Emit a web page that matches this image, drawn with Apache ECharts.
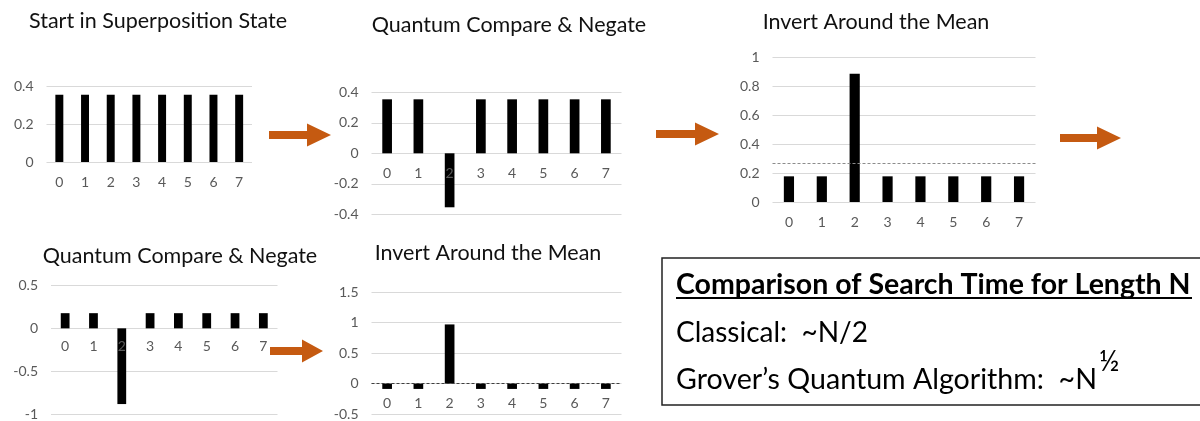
<!DOCTYPE html>
<html><head><meta charset="utf-8">
<script src="https://cdn.jsdelivr.net/npm/echarts@6/dist/echarts.min.js"></script>
<style>html,body{margin:0;padding:0;background:#fff}#c{width:1200px;height:421px}</style>
</head><body><div id="c"></div>
<script>
// ---- data ----
const categories = ['0','1','2','3','4','5','6','7'];
const superposition = [0.354,0.354,0.354,0.354,0.354,0.354,0.354,0.354];
const negate1 = [0.354,0.354,-0.354,0.354,0.354,0.354,0.354,0.354];
const invert1 = [0.177,0.177,0.884,0.177,0.177,0.177,0.177,0.177];
const negate2 = [0.177,0.177,-0.884,0.177,0.177,0.177,0.177,0.177];
const invert2 = [-0.088,-0.088,0.972,-0.088,-0.088,-0.088,-0.088,-0.088];
const mean1 = 0.265;
const mean2 = 0;
const panelTitles = ['Start in Superposition State','Quantum Compare & Negate','Invert Around the Mean','Quantum Compare & Negate','Invert Around the Mean'];
const yMin = [0,-0.4,0,-1,-0.5];
const yMax = [0.4,0.4,1,0.5,1.5];
const yStep = [0.2,0.2,0.2,0.5,0.5];
const boxTitle = 'Comparison of Search Time for Length N';
const boxLine1 = 'Classical:  ~N/2';
const boxLine2 = 'Grover\u2019s Quantum Algorithm:  ~N';
const boxSup = '\u00BD';

// ---- layout ----
const FONT = 'Lato';
const panelData = [superposition, negate1, invert1, negate2, invert2];
const means = [null, null, mean1, null, mean2];
const meanColors = [null, null, '#8c8c8c', null, '#404040'];
const grids = [
  {left:46.5, top:86, width:205.5, height:76},
  {left:371.5, top:92.3, width:250, height:122},
  {left:772.5, top:57, width:263, height:145},
  {left:51, top:285.5, width:226.5, height:131},
  {left:371.5, top:292.3, width:250, height:124}
];
const titlePos = [[158,23],[509,27],[876,24],[180,258],[488,255]];
// the category axis sits on the value 0 line: shift it up from the grid bottom
const zeroOffset = grids.map((g,i)=> -g.height * (0 - yMin[i]) / (yMax[i] - yMin[i]));

const chart = echarts.init(document.getElementById('c'), null, {renderer:'canvas'});

const arrowColor = '#C55A11';
function arrow(x0, xh, x1, yc) {
  return {type:'polygon', silent:true, shape:{points:[
    [x0,yc-4],[xh,yc-4],[xh,yc-11.5],[x1,yc],[xh,yc+11.5],[xh,yc+4],[x0,yc+4]
  ]}, style:{fill:arrowColor}};
}

const option = {
  animation:false,
  backgroundColor:'#fff',
  textStyle:{fontFamily:FONT},
  title: panelTitles.map((t,i)=>({
    text:t, left:titlePos[i][0], top:titlePos[i][1]-13, textAlign:'center', padding:0,
    textStyle:{fontFamily:FONT, fontSize:21.5, fontWeight:'normal', color:'#111'}
  })),
  grid: grids.map(g=>Object.assign({containLabel:false}, g)),
  xAxis: grids.map((g,i)=>({
    type:'category', gridIndex:i, data:categories, z:3, position:'bottom', offset:zeroOffset[i],
    axisTick:{show:false},
    axisLine:{show:false, onZero:false},
    axisLabel:{color:'#595959', fontSize:14, margin:13, fontFamily:FONT}
  })),
  yAxis: grids.map((g,i)=>({
    type:'value', gridIndex:i, min:yMin[i], max:yMax[i], interval:yStep[i],
    axisLine:{show:false}, axisTick:{show:false},
    splitLine:{lineStyle:{color:'#d9d9d9', width:1}},
    axisLabel:{color:'#595959', fontSize:14, margin:13, fontFamily:FONT}
  })),
  series: panelData.map((d,i)=>{
    const s = {type:'bar', xAxisIndex:i, yAxisIndex:i, data:d, barWidth:'31%',
      itemStyle:{color:'#000'}, silent:true};
    if (means[i] !== null) {
      s.markLine = {silent:true, symbol:['none','none'], label:{show:false},
        lineStyle:{type:[3,2], color:meanColors[i], width:1},
        data:[{yAxis:means[i]}]};
    }
    return s;
  }),
  graphic: [
    arrow(269,307,331,135),
    arrow(656,695,719,134),
    arrow(1060,1097,1121,138),
    arrow(270,302,323,351),
    {type:'rect', silent:true, shape:{x:662,y:258,width:600,height:147},
      style:{fill:'none', stroke:'#222', lineWidth:1.5}},
    {type:'text', silent:true, x:676, y:284.5, style:{text:boxTitle, font:'bold 28.5px Lato', fill:'#000', textVerticalAlign:'middle'}},
    {type:'rect', silent:true, shape:{x:676,y:297,width:516,height:2}, style:{fill:'#000'}},
    {type:'text', silent:true, x:676, y:333, style:{text:boxLine1, font:'28px Lato', fill:'#000', textVerticalAlign:'middle'}},
    {type:'text', silent:true, x:676, y:379.5, style:{text:boxLine2, font:'28.6px Lato', fill:'#000', textVerticalAlign:'middle'}},
    {type:'text', silent:true, x:1099, y:362, style:{text:boxSup, font:'28px Lato', fill:'#000', textVerticalAlign:'middle'}}
  ]
};
chart.setOption(option);
</script>
</body></html>
